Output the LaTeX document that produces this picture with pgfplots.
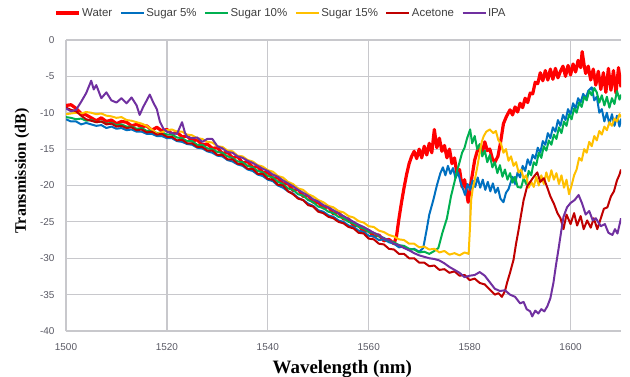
\documentclass[border=0pt]{standalone}
\usepackage{fontspec}
\setmainfont{Liberation Serif}
\newfontfamily\arial{Liberation Sans}
\usepackage{pgfplots}
\pgfplotsset{compat=1.18}
\definecolor{cWater}{RGB}{255,0,0}
\definecolor{cSa}{RGB}{0,112,192}
\definecolor{cSb}{RGB}{0,176,80}
\definecolor{cSc}{RGB}{255,192,0}
\definecolor{cAce}{RGB}{192,0,0}
\definecolor{cIPA}{RGB}{112,48,160}
\definecolor{gridc}{RGB}{200,200,204}
\definecolor{tickc}{RGB}{89,89,100}
\definecolor{legc}{RGB}{64,64,64}
\begin{document}
\begin{tikzpicture}[x=1bp,y=1bp]
\path[use as bounding box] (0,0) rectangle (630,376);
\begin{axis}[
  at={(66bp,45bp)}, anchor=south west,
  width=555bp, height=291bp, scale only axis,
  xmin=1500, xmax=1610, ymin=-40, ymax=0,
  xtick={1500,1520,...,1600}, ytick={-40,-35,...,0},
  grid=major, major grid style={gridc, line width=1.2bp},
  axis x line*=bottom, axis y line*=left,
  axis line style={gridc, line width=1.2bp, -},
  major tick length=0pt,
  tick label style={font=\arial\fontsize{10}{11}\selectfont, text=tickc},
  /pgf/number format/assume math mode=true,
  /pgf/number format/1000 sep={},
  xticklabel style={yshift=-9bp},
  yticklabel style={xshift=-8bp},
  xlabel={Wavelength (nm)},
  xlabel style={at={(axis description cs:0.498,0)}, anchor=base, yshift=-42bp, font=\bfseries\fontsize{19}{21}\selectfont},
  ylabel={Transmission (dB)},
  ylabel style={at={(axis description cs:-0.0793,0.55)}, anchor=center, font=\bfseries\fontsize{16}{18}\selectfont},
  legend columns=6,
  legend style={at={(0.387,1.093)}, anchor=center, draw=none, fill=none,
    font=\arial\fontsize{11.5}{13}\selectfont, text=legc,
    /tikz/every even column/.append style={column sep=6bp},
    nodes={inner sep=1.5bp}},
  legend image code/.code={\draw[#1] (0bp,0bp) -- (23bp,0bp);},
  every axis plot/.append style={line join=round},
]
% Water
\addplot[cWater, line width=3.2bp] coordinates {
(1500,-9.0)(1501,-8.9)(1502,-9.4)(1503,-10.1)(1504,-10.3)(1505,-10.7)(1506,-11.1)(1507,-10.7)(1508,-11.2)(1509,-11.0)
(1510,-11.5)(1511,-11.2)(1512,-11.3)(1513,-11.8)(1514,-11.6)(1515,-11.9)(1516,-11.8)(1517,-12.4)(1518,-12.0)(1519,-12.5)
(1520,-12.3)(1521,-12.9)(1522,-12.7)(1523,-13.3)(1524,-13.2)(1525,-13.9)(1526,-13.7)(1527,-14.4)(1528,-14.3)(1529,-14.9)
(1530,-14.8)(1531,-15.6)(1532,-15.4)(1533,-16.2)(1534,-16.0)(1535,-16.9)(1536,-16.7)(1537,-17.5)(1538,-17.4)(1539,-18.2)
(1540,-18.2)(1541,-19.0)(1542,-18.9)(1543,-19.8)(1544,-19.7)(1545,-20.7)(1546,-20.5)(1547,-21.5)(1548,-21.4)(1549,-22.3)
(1550,-22.3)(1551,-23.1)(1552,-22.9)(1553,-23.9)(1554,-23.7)(1555,-24.6)(1556,-24.6)(1557,-25.5)(1558,-25.5)(1559,-26.3)
(1560,-26.2)(1561,-27.0)(1562,-26.8)(1563,-27.6)(1564,-27.4)(1565,-28.0)(1565.5,-27.0)(1566,-24.5)(1566.5,-22.3)(1567,-20.3)
(1567.5,-18.5)(1568,-17.0)(1568.5,-16.0)(1569,-15.3)(1569.5,-16.3)(1570,-15.0)(1570.5,-16.2)(1571,-14.6)(1571.5,-15.8)(1572,-14.2)
(1572.5,-15.5)(1573,-12.3)(1573.5,-14.8)(1574,-13.5)(1574.5,-15.3)(1575,-14.5)(1575.5,-16.2)(1576,-15.0)(1576.5,-17.0)(1577,-16.2)
(1577.5,-18.5)(1578,-17.8)(1578.5,-20.2)(1579,-19.2)(1579.7,-22.3)(1580.3,-19.5)(1581,-16.5)(1581.5,-15.3)(1582,-14.5)(1582.5,-15.5)
(1583,-14.0)(1583.5,-15.2)(1584,-15.0)(1584.5,-16.3)(1585,-16.8)(1585.6,-16.0)(1586.1,-14.2)(1586.7,-11.5)(1587.3,-10.5)(1588,-9.6)
(1588.5,-10.3)(1589,-9.2)(1589.5,-9.9)(1590,-8.7)(1590.5,-9.3)(1591,-8.0)(1591.5,-8.6)(1592,-7.3)(1592.5,-7.4)(1593,-5.8)
(1593.5,-6.0)(1594,-4.5)(1594.5,-5.6)(1595,-4.2)(1595.5,-5.5)(1596,-4.0)(1596.5,-5.4)(1597,-3.9)(1597.5,-5.2)(1598,-4.3)
(1598.5,-3.6)(1599,-5.0)(1599.5,-3.5)(1600,-4.8)(1600.5,-3.3)(1601,-4.4)(1601.5,-2.8)(1602,-3.8)(1602.3,-1.6)(1602.7,-3.5)
(1603,-4.6)(1603.5,-3.6)(1604,-5.5)(1604.5,-4.0)(1605,-6.2)(1605.5,-4.3)(1606,-6.8)(1606.5,-4.5)(1607,-7.2)(1607.5,-3.9)
(1608,-6.9)(1608.5,-4.2)(1609,-7.3)(1609.5,-3.8)(1610,-6.5)
};
% Sugar 5%
\addplot[cSa, line width=2bp] coordinates {
(1500,-10.9)(1501,-11.2)(1502,-11.2)(1503,-11.6)(1504,-11.4)(1505,-11.6)(1506,-11.8)(1507,-11.7)(1508,-12.1)(1509,-11.9)
(1510,-12.2)(1511,-12.1)(1512,-12.4)(1513,-12.3)(1514,-12.6)(1515,-12.6)(1516,-12.9)(1517,-12.9)(1518,-13.2)(1519,-13.2)
(1520,-13.5)(1521,-13.5)(1522,-13.9)(1523,-14.0)(1524,-14.3)(1525,-14.4)(1526,-14.8)(1527,-14.9)(1528,-15.3)(1529,-15.5)
(1530,-15.9)(1531,-16.0)(1532,-16.5)(1533,-16.7)(1534,-17.1)(1535,-17.3)(1536,-17.8)(1537,-18.0)(1538,-18.5)(1539,-18.7)
(1540,-19.2)(1541,-19.4)(1542,-20.0)(1543,-20.3)(1544,-20.8)(1545,-21.1)(1546,-21.7)(1547,-22.0)(1548,-22.5)(1549,-22.8)
(1550,-23.4)(1551,-23.6)(1552,-24.1)(1553,-24.3)(1554,-24.8)(1555,-25.0)(1556,-25.5)(1557,-25.7)(1558,-26.2)(1559,-26.4)
(1560,-26.9)(1561,-27.0)(1562,-27.5)(1563,-27.4)(1564,-27.8)(1565,-28.0)(1566,-28.5)(1567,-28.4)(1568,-28.9)(1569,-28.7)
(1570,-29.1)(1570.8,-28.6)(1571.5,-26.0)(1572,-24.0)(1572.8,-22.0)(1573.5,-20.0)(1574.2,-18.3)(1574.7,-17.5)(1575.2,-18.6)(1575.7,-17.3)
(1576.2,-18.4)(1576.7,-17.6)(1577.2,-19.0)(1577.7,-18.2)(1578.3,-19.8)(1578.7,-20.5)(1579.1,-21.3)(1579.6,-19.8)(1580.1,-20.6)(1580.6,-19.3)
(1581.1,-20.2)(1581.6,-18.9)(1582.1,-20.3)(1582.6,-19.2)(1583.1,-20.6)(1583.6,-19.5)(1584.1,-20.8)(1584.6,-19.7)(1585.1,-21.0)(1585.6,-20.3)
(1586.1,-21.8)(1586.7,-22.3)(1587.2,-21.0)(1587.7,-20.5)(1588.5,-18.8)(1589,-19.8)(1589.5,-18.2)(1590,-18.9)(1590.5,-17.3)(1591,-18.0)
(1591.5,-16.4)(1592,-17.2)(1592.5,-15.8)(1593,-16.3)(1593.5,-14.8)(1594,-15.5)(1594.5,-13.9)(1595,-14.4)(1595.5,-12.8)(1596,-13.5)
(1596.5,-12.0)(1597,-12.6)(1597.5,-11.0)(1598,-11.8)(1598.5,-10.3)(1599,-11.0)(1599.5,-9.5)(1600,-10.2)(1600.5,-8.7)(1601,-9.4)
(1601.5,-8.0)(1602,-8.6)(1602.5,-7.4)(1603,-8.0)(1603.5,-7.0)(1604.2,-6.5)(1604.7,-8.3)(1605.2,-7.8)(1605.7,-10.0)(1606.2,-9.5)
(1606.7,-11.2)(1607.2,-10.0)(1607.7,-11.6)(1608.2,-10.2)(1608.7,-11.8)(1609.2,-10.4)(1609.7,-11.9)(1610,-10.8)
};
% Sugar 10%
\addplot[cSb, line width=2bp] coordinates {
(1500,-10.6)(1501,-10.7)(1502,-10.9)(1503,-10.8)(1504,-11.1)(1505,-11.0)(1506,-11.3)(1507,-11.2)(1508,-11.5)(1509,-11.4)
(1510,-11.7)(1511,-11.6)(1512,-11.9)(1513,-11.9)(1514,-12.2)(1515,-12.1)(1516,-12.5)(1517,-12.4)(1518,-12.8)(1519,-12.7)
(1520,-13.0)(1521,-13.0)(1522,-13.4)(1523,-13.5)(1524,-13.9)(1525,-13.9)(1526,-14.4)(1527,-14.4)(1528,-14.9)(1529,-15.0)
(1530,-15.4)(1531,-15.5)(1532,-16.0)(1533,-16.2)(1534,-16.7)(1535,-16.8)(1536,-17.3)(1537,-17.5)(1538,-18.0)(1539,-18.2)
(1540,-18.7)(1541,-18.9)(1542,-19.5)(1543,-19.8)(1544,-20.4)(1545,-20.6)(1546,-21.2)(1547,-21.4)(1548,-22.0)(1549,-22.3)
(1550,-22.9)(1551,-23.1)(1552,-23.6)(1553,-23.8)(1554,-24.3)(1555,-24.5)(1556,-25.0)(1557,-25.2)(1558,-25.7)(1559,-25.9)
(1560,-26.4)(1561,-26.5)(1562,-27.0)(1563,-27.2)(1564,-27.6)(1565,-27.8)(1566,-28.2)(1567,-28.3)(1568,-28.7)(1569,-28.8)
(1570,-29.2)(1571,-29.1)(1572,-29.4)(1573,-29.0)(1573.8,-28.6)(1574.6,-26.5)(1575.5,-24.5)(1576.3,-21.5)(1577,-19.5)(1577.5,-18.0)
(1578,-16.8)(1578.5,-15.5)(1579,-14.8)(1579.5,-13.5)(1580.1,-12.3)(1580.5,-14.2)(1581,-13.2)(1581.5,-15.0)(1582,-14.3)(1582.5,-16.0)
(1583,-15.2)(1583.5,-16.8)(1584,-15.8)(1584.5,-17.5)(1585,-16.8)(1585.5,-18.3)(1586,-17.2)(1586.5,-18.8)(1587,-17.8)(1587.5,-19.2)
(1588,-18.3)(1588.5,-19.6)(1589,-18.8)(1589.5,-20.2)(1590.2,-20.3)(1590.7,-19.0)(1591.2,-19.8)(1591.7,-18.0)(1592.2,-18.6)(1592.7,-16.8)
(1593.2,-17.2)(1593.7,-15.5)(1594.2,-16.2)(1594.7,-14.6)(1595.2,-15.2)(1595.7,-13.8)(1596.2,-14.4)(1596.7,-13.0)(1597.2,-13.6)(1597.7,-12.0)
(1598.2,-12.8)(1598.7,-11.2)(1599.2,-11.8)(1599.7,-10.2)(1600.2,-10.9)(1600.7,-9.4)(1601.2,-10.0)(1601.7,-8.6)(1602.2,-9.2)(1602.7,-7.8)
(1603.2,-8.3)(1603.7,-7.0)(1604.2,-7.6)(1604.7,-6.6)(1605.2,-7.2)(1605.7,-8.6)(1606.2,-7.6)(1606.7,-9.0)(1607.2,-7.8)(1607.7,-9.3)
(1608.2,-8.0)(1608.7,-8.8)(1609.2,-7.0)(1609.7,-8.2)(1610,-7.5)
};
% Sugar 15%
\addplot[cSc, line width=2bp] coordinates {
(1500,-10.2)(1501,-10.1)(1502,-10.0)(1503,-10.1)(1504,-9.9)(1505,-10.0)(1506,-10.2)(1507,-10.1)(1508,-10.4)(1509,-10.5)
(1510,-10.7)(1511,-10.6)(1512,-11.0)(1513,-11.1)(1514,-11.3)(1515,-11.5)(1516,-11.8)(1517,-12.3)(1518,-12.9)(1519,-12.7)
(1520,-12.4)(1521,-12.3)(1522,-12.6)(1523,-12.6)(1524,-13.0)(1525,-13.1)(1526,-13.5)(1527,-13.6)(1528,-14.0)(1529,-14.1)
(1530,-14.6)(1531,-14.7)(1532,-15.2)(1533,-15.3)(1534,-15.9)(1535,-16.0)(1536,-16.5)(1537,-16.7)(1538,-17.2)(1539,-17.4)
(1540,-17.9)(1541,-18.1)(1542,-18.7)(1543,-18.9)(1544,-19.5)(1545,-19.8)(1546,-20.4)(1547,-20.6)(1548,-21.2)(1549,-21.5)
(1550,-22.0)(1551,-22.3)(1552,-22.8)(1553,-23.0)(1554,-23.5)(1555,-23.7)(1556,-24.2)(1557,-24.4)(1558,-24.9)(1559,-25.1)
(1560,-25.6)(1561,-25.7)(1562,-26.2)(1563,-26.4)(1564,-26.8)(1565,-27.0)(1566,-27.4)(1567,-27.5)(1568,-28.0)(1569,-28.0)
(1570,-28.5)(1571,-28.4)(1572,-28.8)(1573,-28.7)(1574,-29.2)(1575,-29.0)(1576,-29.5)(1577,-29.3)(1578,-29.6)(1579,-29.2)
(1579.8,-29.4)(1580.05,-26.0)(1580.3,-22.0)(1580.6,-20.5)(1581,-19.3)(1581.5,-17.5)(1582,-15.5)(1582.4,-14.0)(1582.8,-13.2)(1583.3,-12.6)
(1584,-12.3)(1584.7,-12.8)(1585.2,-12.5)(1585.7,-13.8)(1586.2,-14.2)(1586.7,-15.5)(1587.2,-15.0)(1587.7,-16.6)(1588.2,-16.0)(1588.7,-17.3)
(1589.2,-16.8)(1589.7,-18.2)(1590.2,-17.8)(1590.7,-19.0)(1591.2,-18.6)(1591.7,-20.3)(1592.2,-19.5)(1592.7,-20.2)(1593.2,-18.8)(1593.7,-20.0)
(1594.2,-18.6)(1594.7,-19.8)(1595.2,-18.2)(1595.7,-19.4)(1596.2,-17.9)(1596.7,-19.2)(1597.2,-18.3)(1597.7,-19.8)(1598.2,-18.6)(1598.7,-20.3)
(1599.2,-19.2)(1599.7,-21.2)(1600.2,-20.0)(1600.7,-18.6)(1601.2,-17.8)(1601.7,-16.2)(1602.2,-16.6)(1602.7,-15.0)(1603.2,-15.5)(1603.7,-14.0)
(1604.2,-14.6)(1604.7,-13.2)(1605.2,-13.8)(1605.7,-12.5)(1606.2,-13.0)(1606.7,-11.9)(1607.2,-12.4)(1607.7,-11.3)(1608.2,-11.8)(1608.7,-10.8)
(1609.2,-11.2)(1609.7,-10.2)(1610,-10.6)
};
% Acetone
\addplot[cAce, line width=2bp] coordinates {
(1500,-9.3)(1501,-9.6)(1502,-9.8)(1503,-10.4)(1504,-10.9)(1505,-11.1)(1506,-11.3)(1507,-11.2)(1508,-11.6)(1509,-11.5)
(1510,-11.9)(1511,-11.8)(1512,-12.1)(1513,-12.0)(1514,-12.4)(1515,-12.3)(1516,-12.7)(1517,-12.6)(1518,-13.0)(1519,-12.9)
(1520,-13.3)(1521,-13.3)(1522,-13.8)(1523,-13.7)(1524,-14.2)(1525,-14.2)(1526,-14.7)(1527,-14.7)(1528,-15.2)(1529,-15.2)
(1530,-15.8)(1531,-15.8)(1532,-16.4)(1533,-16.4)(1534,-17.0)(1535,-17.1)(1536,-17.7)(1537,-17.7)(1538,-18.4)(1539,-18.4)
(1540,-19.1)(1541,-19.2)(1542,-19.9)(1543,-20.0)(1544,-20.8)(1545,-21.2)(1546,-21.8)(1547,-22.0)(1548,-22.7)(1549,-22.9)
(1550,-23.6)(1551,-23.8)(1552,-24.3)(1553,-24.5)(1554,-25.0)(1555,-25.2)(1556,-25.7)(1557,-25.9)(1558,-26.5)(1559,-26.6)
(1560,-27.3)(1561,-27.4)(1562,-28.0)(1563,-28.1)(1564,-28.7)(1565,-28.8)(1566,-29.4)(1567,-29.4)(1568,-30.0)(1569,-30.0)
(1570,-30.6)(1571,-30.6)(1572,-31.1)(1573,-31.0)(1574,-31.6)(1575,-31.5)(1576,-32.0)(1577,-31.8)(1578,-32.4)(1579,-32.3)
(1580,-33.0)(1581,-32.8)(1582,-33.4)(1583,-33.6)(1584,-34.3)(1585,-35.0)(1585.7,-34.8)(1586.4,-35.3)(1587,-34.5)(1587.4,-33.4)
(1588,-32.0)(1588.7,-30.2)(1589.2,-28.0)(1589.7,-26.1)(1590.2,-24.0)(1590.7,-22.0)(1591.4,-20.1)(1592,-19.5)(1592.7,-18.8)(1593.4,-18.2)
(1594,-19.5)(1594.7,-19.0)(1595.4,-20.3)(1596,-21.5)(1596.7,-22.5)(1597.4,-23.8)(1598,-24.5)(1598.6,-26.0)(1599.2,-24.0)(1600,-25.3)
(1600.7,-23.8)(1601.3,-25.5)(1602,-24.2)(1602.6,-26.0)(1603.3,-24.8)(1604,-25.8)(1604.6,-24.5)(1605.3,-26.0)(1606,-24.5)(1606.6,-23.2)
(1607.3,-23.0)(1608,-21.5)(1608.6,-20.8)(1609.2,-19.3)(1609.7,-18.5)(1610,-17.8)
};
% IPA
\addplot[cIPA, line width=2bp] coordinates {
(1500,-9.4)(1501,-9.8)(1502,-9.6)(1503,-8.5)(1504,-7.3)(1505,-5.6)(1505.5,-6.8)(1506,-6.2)(1507,-8.0)(1508,-7.2)
(1509,-8.3)(1510,-8.6)(1511,-8.0)(1512,-8.7)(1513,-7.9)(1514,-9.0)(1514.6,-10.3)(1515.3,-9.2)(1516,-8.3)(1516.6,-7.5)
(1517.3,-8.6)(1518,-9.5)(1518.6,-11.2)(1519.3,-12.2)(1520,-12.6)(1521,-12.8)(1522,-12.9)(1523,-11.3)(1523.6,-12.8)(1524,-13.3)
(1525,-13.5)(1526,-13.4)(1527,-14.0)(1528,-13.6)(1529,-13.6)(1530,-14.6)(1531,-14.9)(1532,-15.4)(1533,-15.5)(1534,-16.0)
(1535,-16.2)(1536,-16.6)(1537,-16.9)(1538,-17.3)(1539,-17.7)(1540,-18.0)(1541,-18.5)(1542,-18.8)(1543,-19.3)(1544,-19.7)
(1545,-20.1)(1546,-20.6)(1547,-21.0)(1548,-21.4)(1549,-21.9)(1550,-22.2)(1551,-22.7)(1552,-23.0)(1553,-23.4)(1554,-23.8)
(1555,-24.2)(1556,-24.6)(1557,-25.0)(1558,-25.4)(1559,-25.7)(1560,-26.1)(1561,-26.5)(1562,-26.8)(1563,-27.3)(1564,-27.5)
(1565,-28.0)(1566,-28.2)(1567,-28.6)(1568,-28.9)(1569,-29.3)(1570,-29.6)(1571,-29.8)(1572,-30.0)(1573,-30.1)(1574,-30.3)
(1575,-30.7)(1576,-31.2)(1577,-31.6)(1578,-32.0)(1579,-32.6)(1580,-32.4)(1581,-32.3)(1582,-31.9)(1583,-32.4)(1584,-33.3)
(1585,-34.2)(1586,-34.5)(1587,-34.4)(1588,-35.0)(1589,-35.3)(1590,-36.2)(1590.7,-36.0)(1591.3,-37.0)(1592,-37.3)(1592.4,-38.0)
(1593,-37.2)(1593.6,-37.6)(1594.2,-37.0)(1594.8,-37.3)(1595.4,-36.6)(1596,-35.5)(1596.6,-33.4)(1597.1,-31.0)(1597.6,-28.8)(1598.1,-26.5)
(1598.6,-24.3)(1599.3,-23.0)(1600,-22.4)(1600.8,-22.0)(1601.6,-21.3)(1602.3,-22.5)(1603,-24.0)(1603.7,-23.5)(1604.4,-24.8)(1605,-24.5)
(1606,-25.6)(1606.8,-25.3)(1607.5,-26.5)(1608.3,-26.8)(1608.8,-26.0)(1609.3,-26.6)(1610,-24.5)
};
\legend{Water, Sugar 5\%, Sugar 10\%, Sugar 15\%, Acetone, IPA}
\end{axis}
\end{tikzpicture}
\end{document}
